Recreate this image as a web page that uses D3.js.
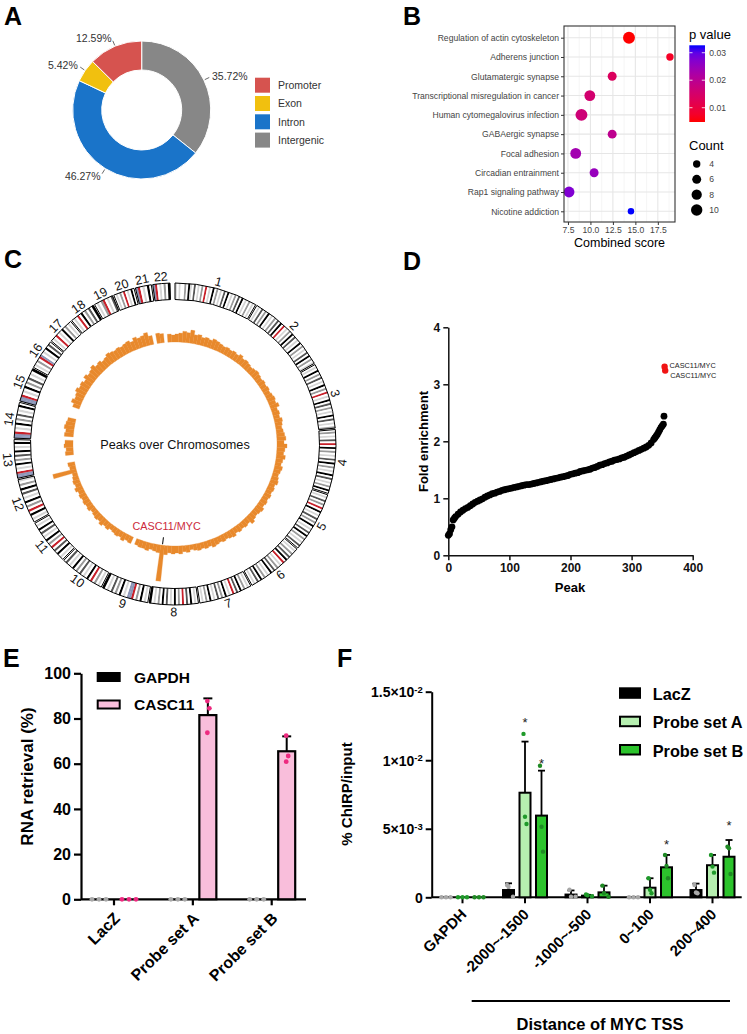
<!DOCTYPE html>
<html>
<head>
<meta charset="utf-8">
<script src="https://cdn.jsdelivr.net/npm/d3@7"></script>
<style>
body { margin: 0; background: #fff; }
svg { display: block; font-family: "Liberation Sans", Arial, sans-serif; }
</style>
</head>
<body>
<svg id="fig" width="747" height="1034"></svg>
<script>
// ---------- A: peak annotation ----------
var annoCats = ['Promoter', 'Exon', 'Intron', 'Intergenic'];
var annoPct = [12.59, 5.42, 46.27, 35.72];
var annoColors = ['#d6534f', '#f1c00f', '#1a74c9', '#878787'];
var annoOrder = ['Intergenic', 'Intron', 'Exon', 'Promoter']; // clockwise from 12 o'clock

// ---------- B: KEGG enrichment ----------
var keggTerms = ['Regulation of actin cytoskeleton', 'Adherens junction', 'Glutamatergic synapse',
  'Transcriptional misregulation in cancer', 'Human cytomegalovirus infection', 'GABAergic synapse',
  'Focal adhesion', 'Circadian entrainment', 'Rap1 signaling pathway', 'Nicotine addiction'];
var keggScore = [14.29, 18.85, 12.42, 9.93, 9.0, 12.42, 8.36, 10.41, 7.62, 14.51];
var keggP = [0.0048, 0.0072, 0.0135, 0.0155, 0.0165, 0.0195, 0.0235, 0.025, 0.0275, 0.0327];
var keggCount = [11, 4, 6, 9, 11, 6, 9, 6, 9, 3];
var scoreTicks = [7.5, 10, 12.5, 15, 17.5];
var scoreMinor = [8.75, 11.25, 13.75, 16.25, 18.75];
var pTicks = [0.01, 0.02, 0.03];
var countBreaks = [4, 6, 8, 10];

// ---------- C: circos ----------
var chromNames = ['1','2','3','4','5','6','7','8','9','10','11','12','13','14','15','16','17','18','19','20','21','22'];
var chromLen = [249, 243, 198, 191, 181, 171, 159, 146, 141, 136, 135, 134, 115, 107, 103, 90, 81, 78, 59, 63, 48, 51];
var chromBands = [
  'lwlwwmwklwdwlwmwrwlwkwmwlwdwkwlwmwdwkwlwmwlw',
  'wlwdwmwkwlwmwdwkwrwlwmwkwdwlwkwmwlwdwkwmwl',
  'wlwkwmwdwlwkwmwrwlwkwdwmwlwkwdwlwm',
  'wmwlwdwrwkwmwlwdwkwmwlwkwdwlwmwkw',
  'wlwdwmwrwkwlwdwmwkwlwdwkwmwlwdw',
  'wlwmwdwkwrwlwmwdwkwlwmwkwdwlw',
  'wlwmwkwdwrwlwkwmwdwlwkwmwlw',
  'wlwkwdwrwmwkwlwdwkwmwlwk',
  'wlwkwmwrbbwlwkwmwdwlwk',
  'wlwmwrwkwlwdwmwkwlwdw',
  'wlwkwdwrwmwkwlwdwkwlw',
  'wlwkwrwmwkwlwdwkwmwl',
  'bbrwlwkwmwdwkwlwkw',
  'bbrwlwkwmwdwlwkw',
  'bbrwlwkwmwdwlwk',
  'wlwmwrbwlwkwdw',
  'wlwrwlwkwmwlw',
  'wlwrwkwmwdwk',
  'wlwmrwlwd',
  'wlwmwrwlwkw',
  'brwlwkw',
  'brwlwmwk'
];
// peak density per 2-degree bin, clockwise from the top
var peakTrack = [
  8, 9, 11, 10, 13, 9, 10, 8, 9, 8, 10, 9, 8, 7, 8,
  7, 8, 7, 9, 7, 8, 7, 6, 7, 8, 7, 6, 7, 6, 7,
  6, 7, 8, 7, 9, 6, 7, 6, 8, 7, 6, 7, 8, 9, 7,
  10, 8, 7, 9, 7, 6, 8, 7, 6, 7, 8, 6, 7, 6, 7,
  6, 7, 6, 8, 7, 6, 7, 9, 6, 7, 6, 7, 6, 8, 7,
  6, 7, 6, 7, 8, 6, 7, 6, 7, 6, 5, 7, 6, 8, 7,
  8, 7, 9, 36, 8, 7, 6, 8, 7, 7, 6, 0, 7, 6, 8,
  6, 7, 6, 5, 7, 6, 8, 6, 7, 6, 5, 7, 6, 7, 6,
  7, 6, 8, 6, 7, 6, 5, 24, 6, 7, 0, 0, 8, 7, 9,
  8, 0, 9, 8, 10, 9, 8, 0, 0, 0, 7, 10, 8, 9, 11,
  9, 10, 8, 11, 9, 10, 12, 9, 10, 8, 9, 11, 10, 9, 10,
  9, 10, 11, 9, 12, 10, 11, 13, 9, 0, 10, 9, 0, 8, 7
];
var mycChrom = 8, mycPosMb = 128;

// ---------- D: ranked peaks ----------
var peakRank = [0, 2, 4, 6, 8, 10, 12, 16, 20, 24, 28, 32, 36, 40, 44, 48, 52, 56, 60, 64, 68, 72, 76, 80, 84, 88,
  92, 96, 100, 104, 108, 112, 116, 120, 124, 128, 132, 136, 140, 144, 148, 152, 156, 160, 164, 168, 172, 176,
  180, 184, 188, 192, 196, 200, 204, 208, 212, 216, 220, 224, 228, 232, 236, 240, 244, 248, 252, 256, 260, 264,
  268, 272, 276, 280, 284, 288, 292, 296, 300, 304, 308, 312, 316, 320, 324, 328, 332, 336, 338, 340, 342, 344,
  346, 348, 350, 352, 353];
var foldEnr = [0.35, 0.38, 0.45, 0.5, 0.62, 0.65, 0.68, 0.72, 0.76, 0.79, 0.82, 0.84, 0.87, 0.9, 0.93, 0.95, 0.97,
  0.99, 1.02, 1.04, 1.06, 1.08, 1.09, 1.11, 1.12, 1.14, 1.15, 1.16, 1.17, 1.18, 1.19, 1.2, 1.21, 1.22, 1.23, 1.24,
  1.24, 1.25, 1.26, 1.27, 1.28, 1.29, 1.3, 1.31, 1.32, 1.33, 1.34, 1.35, 1.36, 1.37, 1.38, 1.39, 1.4, 1.42, 1.43,
  1.44, 1.45, 1.47, 1.48, 1.49, 1.5, 1.51, 1.53, 1.54, 1.56, 1.58, 1.59, 1.61, 1.62, 1.64, 1.65, 1.67, 1.68, 1.69,
  1.71, 1.72, 1.74, 1.76, 1.78, 1.8, 1.82, 1.84, 1.86, 1.88, 1.9, 1.93, 1.97, 2.03, 2.06, 2.09, 2.12, 2.16, 2.2,
  2.24, 2.27, 2.3, 2.44];
var mycRank = [354, 355];
var mycFold = [3.31, 3.24];

// ---------- E: RNA retrieval ----------
var rnaGroups = ['LacZ', 'Probe set A', 'Probe set B'];
var rnaSeries = ['GAPDH', 'CASC11'];
var gapdhMean = [0, 0, 0];
var gapdhSD = [0, 0, 0];
var gapdhPts = [[0, 0, 0], [0, 0, 0], [0, 0, 0]];
var casc11Mean = [0, 81.5, 65.5];
var casc11SD = [0, 7.4, 6.6];
var casc11Pts = [[0, 0, 0], [87.7, 84.5, 73.7], [72.4, 63.4, 60.9]];

// ---------- F: ChIRP (values x 1e-3) ----------
var chirpSites = ['GAPDH', '-2000~-1500', '-1000~-500', '0~100', '200~400'];
var chirpSeries = ['LacZ', 'Probe set A', 'Probe set B'];
var lacZMean = [0, 0.53, 0.2, 0, 0.53];
var lacZSD = [0, 0.49, 0.3, 0, 0.47];
var lacZPts = [[0, 0, 0], [0.9, 0.77, 0.04], [0.55, 0.04, 0.04], [0, 0, 0], [0.9, 0.35, 0.3]];
var probeAMean = [0, 7.63, 0.12, 0.7, 2.34];
var probeASD = [0, 3.73, 0.06, 0.69, 0.75];
var probeAPts = [[0, 0, 0], [11.92, 5.88, 5.35], [0.2, 0.15, 0.08], [1.39, 0.55, 0.3], [3.09, 2.24, 1.8]];
var probeBMean = [0, 5.96, 0.36, 2.19, 2.96];
var probeBSD = [0, 3.28, 0.49, 0.9, 1.22];
var probeBPts = [[0, 0, 0], [9.6, 5.15, 3.33], [0.85, 0.3, 0.04], [3.09, 2.29, 1.39], [3.69, 3.58, 1.7]];
var starSeries = ['Probe set A', 'Probe set B', 'Probe set B', 'Probe set B'];
var starSite = ['-2000~-1500', '-2000~-1500', '0~100', '200~400'];
var starLevel = [13.0, 10.0, 4.13, 5.52];

var svg = d3.select('#fig');

function panelLabel(txt, x, y) {
    svg.append('text').attr('x', x).attr('y', y).text(txt)
        .attr('font-size', 25).attr('font-weight', 'bold').attr('fill', '#000');
}

// ===================== A =====================
(function() {
    var g = svg.append('g').attr('transform', 'translate(141.7,110)');
    var data = annoOrder.map(function(c) {
        var i = annoCats.indexOf(c);
        return {cat: c, v: annoPct[i], color: annoColors[i]};
    });
    var pie = d3.pie().sort(null).value(function(d) { return d.v; });
    var arc = d3.arc().innerRadius(40).outerRadius(69);
    var slices = pie(data);
    g.selectAll('path').data(slices).enter().append('path')
        .attr('d', arc)
        .attr('fill', function(d) { return d.data.color; })
        .attr('stroke', '#fff').attr('stroke-width', 1);

    g.selectAll('line.lead').data(slices).enter().append('line')
        .attr('x1', function(d) { return Math.sin((d.startAngle + d.endAngle) / 2) * 70; })
        .attr('y1', function(d) { return -Math.cos((d.startAngle + d.endAngle) / 2) * 70; })
        .attr('x2', function(d) { return Math.sin((d.startAngle + d.endAngle) / 2) * 75; })
        .attr('y2', function(d) { return -Math.cos((d.startAngle + d.endAngle) / 2) * 75; })
        .attr('stroke', '#444').attr('stroke-width', 0.8);

    g.selectAll('text').data(slices).enter().append('text')
        .attr('x', function(d) { return Math.sin((d.startAngle + d.endAngle) / 2) * 78; })
        .attr('y', function(d) { return -Math.cos((d.startAngle + d.endAngle) / 2) * 78 + 4; })
        .attr('text-anchor', function(d) { return (d.startAngle + d.endAngle) / 2 > Math.PI ? 'end' : 'start'; })
        .attr('font-size', 10.5).attr('fill', '#333')
        .text(function(d) { return d.data.v.toFixed(2) + '%'; });

    var lg = svg.append('g').attr('transform', 'translate(255,77.7)');
    annoCats.forEach(function(c, i) {
        lg.append('rect').attr('x', 0).attr('y', i * 18.3).attr('width', 15).attr('height', 15)
            .attr('fill', annoColors[i]);
        lg.append('text').attr('x', 23).attr('y', i * 18.3 + 11.3).text(c)
            .attr('font-size', 10.5).attr('fill', '#333');
    });
    panelLabel('A', 4, 25);
})();

// ===================== B =====================
(function() {
    var g = svg.append('g');
    var sExt = d3.extent(keggScore), sPad = (sExt[1] - sExt[0]) * 0.05;
    var x = d3.scaleLinear().domain([sExt[0] - sPad, sExt[1] + sPad]).range([564, 675]);
    var y = d3.scalePoint().domain(keggTerms).range([37.7, 211.3]);
    var pExt = d3.extent(keggP);
    var col = d3.scaleLinear().domain(pExt).range(['red', 'blue']).interpolate(d3.interpolateLab);
    var rad = d3.scalePow().exponent(0.5).domain([4, 10]).range([3.7, 5.7]);

    g.selectAll('line.minor').data(scoreMinor).enter().append('line')
        .attr('x1', x).attr('x2', x).attr('y1', 26).attr('y2', 222)
        .attr('stroke', '#f0f0f0').attr('stroke-width', 0.6);
    g.selectAll('line.majx').data(scoreTicks).enter().append('line')
        .attr('x1', x).attr('x2', x).attr('y1', 26).attr('y2', 222)
        .attr('stroke', '#e6e6e6').attr('stroke-width', 1.1);
    g.selectAll('line.majy').data(keggTerms).enter().append('line')
        .attr('x1', 564).attr('x2', 675).attr('y1', y).attr('y2', y)
        .attr('stroke', '#e6e6e6').attr('stroke-width', 1.1);

    g.selectAll('circle').data(keggTerms).enter().append('circle')
        .attr('cx', function(d, i) { return x(keggScore[i]); })
        .attr('cy', function(d) { return y(d); })
        .attr('r', function(d, i) { return rad(keggCount[i]); })
        .attr('fill', function(d, i) { return col(keggP[i]); });

    g.append('rect').attr('x', 564).attr('y', 26).attr('width', 111).attr('height', 196)
        .attr('fill', 'none').attr('stroke', '#333').attr('stroke-width', 1.1);

    var ay = g.append('g').attr('transform', 'translate(564,0)')
        .call(d3.axisLeft(y).tickSize(3).tickPadding(2));
    ay.select('.domain').remove();
    ay.selectAll('line').attr('stroke', '#333');
    ay.selectAll('text').attr('font-size', 8.6).attr('fill', '#444').attr('font-family', null);

    var ax = g.append('g').attr('transform', 'translate(0,222)')
        .call(d3.axisBottom(x).tickValues(scoreTicks).tickFormat(d3.format('.1f')).tickSize(3).tickPadding(2));
    ax.select('.domain').remove();
    ax.selectAll('line').attr('stroke', '#333');
    ax.selectAll('text').attr('font-size', 8.6).attr('fill', '#444').attr('font-family', null);

    g.append('text').attr('x', 619.5).attr('y', 247).attr('text-anchor', 'middle')
        .attr('font-size', 12.5).attr('fill', '#000').text('Combined score');

    // colour bar
    var grad = svg.append('defs').append('linearGradient').attr('id', 'pgrad')
        .attr('x1', 0).attr('y1', 1).attr('x2', 0).attr('y2', 0);
    d3.range(0, 1.0001, 0.1).forEach(function(t) {
        grad.append('stop').attr('offset', t).attr('stop-color', col(pExt[0] + t * (pExt[1] - pExt[0])));
    });
    var yc = d3.scaleLinear().domain(pExt).range([122, 45.3]);
    g.append('text').attr('x', 689).attr('y', 39.3).attr('font-size', 13).text('p value');
    g.append('rect').attr('x', 689.3).attr('y', 45.3).attr('width', 15.7).attr('height', 76.7)
        .attr('fill', 'url(#pgrad)');
    pTicks.forEach(function(p) {
        g.append('line').attr('x1', 689.3).attr('x2', 692.5).attr('y1', yc(p)).attr('y2', yc(p))
            .attr('stroke', '#fff').attr('stroke-width', 0.8);
        g.append('line').attr('x1', 701.8).attr('x2', 705).attr('y1', yc(p)).attr('y2', yc(p))
            .attr('stroke', '#fff').attr('stroke-width', 0.8);
        g.append('text').attr('x', 709.3).attr('y', yc(p) + 3).attr('font-size', 8.6).attr('fill', '#444')
            .text(d3.format('.2f')(p));
    });

    g.append('text').attr('x', 689).attr('y', 150).attr('font-size', 13).text('Count');
    var yk = d3.scalePoint().domain(countBreaks).range([164, 210]);
    countBreaks.forEach(function(c) {
        g.append('circle').attr('cx', 696.7).attr('cy', yk(c)).attr('r', rad(c)).attr('fill', '#000');
        g.append('text').attr('x', 709.3).attr('y', yk(c) + 3).attr('font-size', 8.6).attr('fill', '#444').text(c);
    });
    panelLabel('B', 403, 25);
})();

// ===================== C =====================
(function() {
    var cx = 175, cy = 444;
    var g = svg.append('g').attr('transform', 'translate(' + cx + ',' + cy + ')');
    var rad = Math.PI / 180;
    var padDeg = 0.5, topGap = 1.8;
    var degPerMb = (360 - topGap - padDeg * (chromLen.length - 1)) / d3.sum(chromLen);
    var chromStart = [];
    var acc = 0;
    chromLen.forEach(function(L, i) {
        chromStart.push(acc + i * padDeg);
        acc += L * degPerMb;
    });
    var bandColor = {w: '#ffffff', l: '#d6d6d6', m: '#9a9a9a', d: '#555555', k: '#000000', r: '#c8202a', b: '#8c96b8'};
    var ringArc = d3.arc().innerRadius(144.5).outerRadius(161);

    chromLen.forEach(function(L, i) {
        var s = chromStart[i], e = s + L * degPerMb;
        var bands = chromBands[i].split('');
        var w = (e - s) / bands.length;
        bands.forEach(function(b, k) {
            g.append('path')
                .attr('d', ringArc({startAngle: (s + k * w) * rad, endAngle: (s + (k + 1) * w + 0.05) * rad}))
                .attr('fill', bandColor[b]);
        });
        g.append('path').attr('d', ringArc({startAngle: s * rad, endAngle: e * rad}))
            .attr('fill', 'none').attr('stroke', '#000').attr('stroke-width', 1);

        var mid = (s + e) / 2;
        var rot = (mid > 90 && mid < 270) ? mid - 180 : mid;
        g.append('text')
            .attr('transform', 'translate(' + Math.sin(mid * rad) * 168 + ',' + (-Math.cos(mid * rad) * 168) + ') rotate(' + rot + ')')
            .attr('text-anchor', 'middle').attr('dy', '0.35em')
            .attr('font-size', 12.5).attr('fill', '#111').text(chromNames[i]);
    });

    var binDeg = 360 / peakTrack.length;
    var rTrack = d3.scaleLinear().domain([0, 36]).range([102, 138]);
    var trackArc = d3.arc().innerRadius(102);
    var bins = peakTrack.map(function(v, i) { return {v: v, i: i}; })
        .filter(function(d) { return d.v > 0; });
    g.selectAll('path.track').data(bins).enter().append('path')
        .attr('d', function(d) {
            return trackArc.outerRadius(rTrack(d.v))({startAngle: d.i * binDeg * rad, endAngle: (d.i + 1) * binDeg * rad});
        })
        .attr('fill', '#e8892c').attr('stroke', '#e8892c').attr('stroke-width', 0.3);

    g.append('text').attr('x', 0).attr('y', 5).attr('text-anchor', 'middle')
        .attr('font-size', 12.7).attr('fill', '#111').text('Peaks over Chromosomes');

    var mycAng = (chromStart[mycChrom - 1] + mycPosMb * degPerMb) * rad;
    g.append('line')
        .attr('x1', Math.sin(mycAng) * 94).attr('y1', -Math.cos(mycAng) * 94)
        .attr('x2', Math.sin(mycAng) * 101).attr('y2', -Math.cos(mycAng) * 101)
        .attr('stroke', '#000').attr('stroke-width', 1);
    g.append('text').attr('x', Math.sin(mycAng) * 84 + 2).attr('y', -Math.cos(mycAng) * 84 + 3)
        .attr('text-anchor', 'middle').attr('font-size', 10.8).attr('fill', '#cc2a3c').text('CASC11/MYC');
    panelLabel('C', 4, 268);
})();

// ===================== D =====================
(function() {
    var g = svg.append('g');
    var x = d3.scaleLinear().domain([0, 400]).range([448.3, 692.7]);
    var y = d3.scaleLinear().domain([0, 4]).range([555.3, 327.3]);

    var ax = g.append('g').attr('transform', 'translate(0,555.3)')
        .call(d3.axisBottom(x).tickValues([0, 100, 200, 300, 400]).tickFormat(d3.format('d')).tickSize(5).tickSizeOuter(0).tickPadding(3));
    var ay = g.append('g').attr('transform', 'translate(448.3,0)')
        .call(d3.axisLeft(y).tickValues([0, 1, 2, 3, 4]).tickFormat(d3.format('d')).tickSize(5).tickSizeOuter(0).tickPadding(3));
    [ax, ay].forEach(function(a) {
        a.selectAll('path,line').attr('stroke', '#111').attr('stroke-width', 1.5);
        a.selectAll('text').attr('font-size', 12).attr('font-weight', 'bold').attr('fill', '#111').attr('font-family', null);
    });

    g.selectAll('circle.pk').data(peakRank).enter().append('circle')
        .attr('cx', function(d) { return x(d); })
        .attr('cy', function(d, i) { return y(foldEnr[i]); })
        .attr('r', 3.4).attr('fill', '#000');
    g.selectAll('circle.myc').data(mycRank).enter().append('circle')
        .attr('cx', function(d) { return x(d); })
        .attr('cy', function(d, i) { return y(mycFold[i]); })
        .attr('r', 3.2).attr('fill', '#f01414');
    mycRank.forEach(function(d, i) {
        g.append('text').attr('x', x(d) + 5).attr('y', y(mycFold[i]) + (i === 0 ? 1.5 : 7.5))
            .attr('font-size', 7.3).attr('fill', '#222').text('CASC11/MYC');
    });

    g.append('text').attr('x', 570).attr('y', 592).attr('text-anchor', 'middle')
        .attr('font-size', 13).attr('font-weight', 'bold').text('Peak');
    g.append('text').attr('transform', 'translate(428,441.5) rotate(-90)').attr('text-anchor', 'middle')
        .attr('font-size', 13).attr('font-weight', 'bold').text('Fold enrichment');
    panelLabel('D', 403, 270);
})();

// ===================== E =====================
(function() {
    var g = svg.append('g');
    var y = d3.scaleLinear().domain([0, 100]).range([899.3, 673.3]);
    var gx = d3.scalePoint().domain(rnaGroups).range([114, 271.7]);
    var off = d3.scalePoint().domain(rnaSeries).range([-15, 15]);
    var means = [gapdhMean, casc11Mean], sds = [gapdhSD, casc11SD], pts = [gapdhPts, casc11Pts];
    var fills = ['#000', '#f9bedb'], dotCols = ['#a8a8a8', '#ee2a80'];
    var bw = 17;

    g.append('line').attr('x1', 81).attr('x2', 306).attr('y1', y(0)).attr('y2', y(0))
        .attr('stroke', '#000').attr('stroke-width', 2.2);
    g.selectAll('line.tk').data(rnaGroups).enter().append('line')
        .attr('x1', gx).attr('x2', gx).attr('y1', y(0)).attr('y2', y(0) + 6)
        .attr('stroke', '#000').attr('stroke-width', 2.2);
    var ay = g.append('g').attr('transform', 'translate(81,0)')
        .call(d3.axisLeft(y).tickValues([0, 20, 40, 60, 80, 100]).tickSize(7).tickSizeOuter(0).tickPadding(3));
    ay.selectAll('path,line').attr('stroke', '#000').attr('stroke-width', 2.2);
    ay.selectAll('text').attr('font-size', 16).attr('font-weight', 'bold').attr('fill', '#000').attr('font-family', null);

    rnaSeries.forEach(function(s, si) {
        rnaGroups.forEach(function(grp, gi) {
            var cxp = gx(grp) + off(s), m = means[si][gi];
            if (m > 0) {
                g.append('rect').attr('x', cxp - bw / 2).attr('y', y(m)).attr('width', bw)
                    .attr('height', y(0) - y(m)).attr('fill', fills[si]).attr('stroke', '#000').attr('stroke-width', 2.2);
                var top = y(m + sds[si][gi]);
                g.append('line').attr('x1', cxp).attr('x2', cxp).attr('y1', y(m)).attr('y2', top)
                    .attr('stroke', '#000').attr('stroke-width', 2);
                g.append('line').attr('x1', cxp - 4.5).attr('x2', cxp + 4.5).attr('y1', top).attr('y2', top)
                    .attr('stroke', '#000').attr('stroke-width', 2);
            }
            pts[si][gi].forEach(function(v, k) {
                var dx = v === 0 ? (k - 1) * 7 : (k === 1 ? 1.5 : -0.5);
                g.append('circle').attr('cx', cxp + dx).attr('cy', y(v)).attr('r', 2.4).attr('fill', dotCols[si]);
            });
        });
    });

    g.selectAll('text.xl').data(rnaGroups).enter().append('text')
        .attr('transform', function(d) { return 'translate(' + (gx(d) + 7) + ',' + (y(0) + 20) + ') rotate(-45)'; })
        .attr('text-anchor', 'end').attr('font-size', 16).attr('font-weight', 'bold').text(function(d) { return d; });

    g.append('text').attr('transform', 'translate(33,776.5) rotate(-90)').attr('text-anchor', 'middle')
        .attr('font-size', 17).attr('font-weight', 'bold').text('RNA retrieval (%)');

    rnaSeries.forEach(function(s, si) {
        var yy = si === 0 ? 673 : 700.5;
        g.append('rect').attr('x', 97.7).attr('y', yy).attr('width', 22).attr('height', 8)
            .attr('fill', fills[si]).attr('stroke', '#000').attr('stroke-width', 2);
        g.append('text').attr('x', 134).attr('y', yy + 9.5).attr('font-size', 15.5).attr('font-weight', 'bold').text(s);
    });
    panelLabel('E', 3, 667);
})();

// ===================== F =====================
(function() {
    var g = svg.append('g');
    var y = d3.scaleLinear().domain([0, 15]).range([897.3, 691.7]);
    var gx = d3.scalePoint().domain(chirpSites).range([462.5, 712.5]);
    var off = d3.scalePoint().domain(chirpSeries).range([-16.5, 16.5]);
    var means = [lacZMean, probeAMean, probeBMean], sds = [lacZSD, probeASD, probeBSD], pts = [lacZPts, probeAPts, probeBPts];
    var fills = ['#000', '#b6efb0', '#2cc32c'], dotCols = ['#a8a8a8', '#1f9a2a', '#1f8a24'];
    var bw = 11;

    g.append('line').attr('x1', 431.7).attr('x2', 741.7).attr('y1', y(0)).attr('y2', y(0))
        .attr('stroke', '#000').attr('stroke-width', 2);
    g.selectAll('line.tk').data(chirpSites).enter().append('line')
        .attr('x1', gx).attr('x2', gx).attr('y1', y(0)).attr('y2', y(0) + 6)
        .attr('stroke', '#000').attr('stroke-width', 2);
    var ay = g.append('g').attr('transform', 'translate(431.7,0)')
        .call(d3.axisLeft(y).tickValues([0, 5, 10, 15]).tickSize(6).tickSizeOuter(0).tickPadding(3).tickFormat(''));
    ay.selectAll('path,line').attr('stroke', '#000').attr('stroke-width', 2);
    ay.selectAll('.tick').each(function(d) {
        var t = d3.select(this).append('text').attr('x', -9).attr('dy', '0.35em').attr('text-anchor', 'end')
            .attr('font-size', 14).attr('font-weight', 'bold').attr('fill', '#000');
        if (d === 0) { t.text('0'); return; }
        var v = d * 1e-3;
        var ex = Math.floor(Math.log10(v) + 1e-9);
        var mant = +(v / Math.pow(10, ex)).toFixed(1);
        t.append('tspan').text(mant + '×10');
        t.append('tspan').attr('dy', '-0.45em').attr('font-size', 9.5).text(String(ex));
    });

    chirpSeries.forEach(function(s, si) {
        chirpSites.forEach(function(site, gi) {
            var cxp = gx(site) + off(s), m = means[si][gi];
            if (m > 0) {
                g.append('rect').attr('x', cxp - bw / 2).attr('y', y(m)).attr('width', bw)
                    .attr('height', y(0) - y(m)).attr('fill', fills[si]).attr('stroke', '#000').attr('stroke-width', 2);
                var top = y(m + sds[si][gi]);
                g.append('line').attr('x1', cxp).attr('x2', cxp).attr('y1', y(m)).attr('y2', top)
                    .attr('stroke', '#000').attr('stroke-width', 1.8);
                g.append('line').attr('x1', cxp - 3.5).attr('x2', cxp + 3.5).attr('y1', top).attr('y2', top)
                    .attr('stroke', '#000').attr('stroke-width', 1.8);
            }
            pts[si][gi].forEach(function(v, k) {
                var dx = v < 0.1 ? (k - 1) * 4.5 : (k - 1) * 1.5;
                g.append('circle').attr('cx', cxp + dx).attr('cy', y(v)).attr('r', 2.2).attr('fill', dotCols[si]);
            });
        });
    });

    starSeries.forEach(function(s, i) {
        g.append('text').attr('x', gx(starSite[i]) + off(s)).attr('y', y(starLevel[i]) + 8)
            .attr('text-anchor', 'middle').attr('font-size', 13).attr('fill', '#222').text('*');
    });

    g.selectAll('text.xl').data(chirpSites).enter().append('text')
        .attr('transform', function(d) { return 'translate(' + (gx(d) + 5) + ',' + (y(0) + 18) + ') rotate(-45)'; })
        .attr('text-anchor', 'end').attr('font-size', 15).attr('font-weight', 'bold').text(function(d) { return d; });

    g.append('text').attr('transform', 'translate(352,794) rotate(-90)').attr('text-anchor', 'middle')
        .attr('font-size', 15).attr('font-weight', 'bold').text('% ChIRP/input');

    g.append('line').attr('x1', 471.7).attr('x2', 730).attr('y1', 1001).attr('y2', 1001)
        .attr('stroke', '#000').attr('stroke-width', 2);
    g.append('text').attr('x', 600).attr('y', 1030).attr('text-anchor', 'middle')
        .attr('font-size', 16.5).attr('font-weight', 'bold').text('Distance of MYC TSS');

    var ly = [688.3, 716.7, 745];
    chirpSeries.forEach(function(s, si) {
        g.append('rect').attr('x', 620).attr('y', ly[si]).attr('width', 20).attr('height', 9.5)
            .attr('fill', fills[si]).attr('stroke', '#000').attr('stroke-width', 2);
        g.append('text').attr('x', 652.7).attr('y', ly[si] + 11.5).attr('font-size', 16.3).attr('font-weight', 'bold').text(s);
    });
    panelLabel('F', 337, 667);
})();
</script>
</body>
</html>
